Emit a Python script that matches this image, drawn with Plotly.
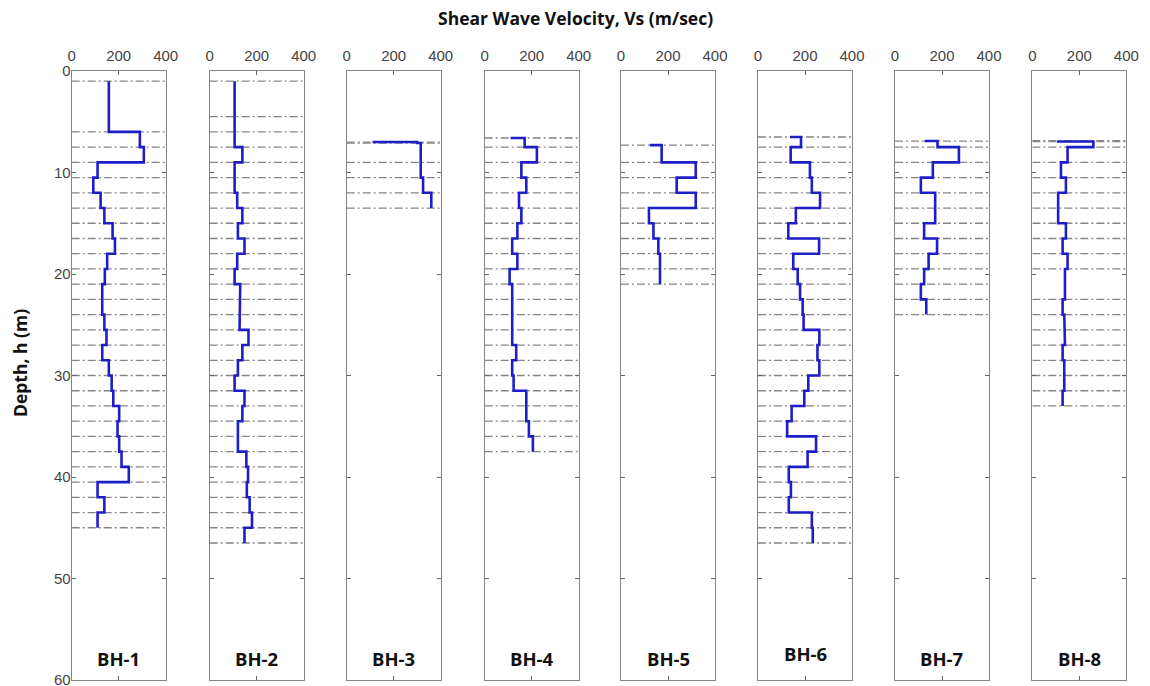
import plotly.graph_objects as go

# Borehole names
boreholes = ["BH-1", "BH-2", "BH-3", "BH-4", "BH-5", "BH-6", "BH-7", "BH-8"]

# Layer boundaries (m) and layer shear-wave velocities (m/s) for each borehole
bh1_depth = [1.0, 6.0, 7.5, 9.0, 10.5, 12.0, 13.5, 15.0, 16.5, 18.0, 19.5, 21.0, 22.5, 24.0,
             25.5, 27.0, 28.5, 30.0, 31.5, 33.0, 34.5, 36.0, 37.5, 39.0, 40.5, 42.0, 43.5, 45.0]
bh1_vs = [158, 290, 307, 110, 92, 123, 139, 174, 184, 151, 141, 130, 130, 139,
          148, 130, 158, 170, 177, 202, 195, 202, 212, 243, 110, 139, 110]

bh2_depth = [1.0, 4.5, 6.0, 7.5, 9.0, 10.5, 12.0, 13.5, 15.0, 16.5, 18.0, 19.5, 21.0, 22.5, 24.0,
             25.5, 27.0, 28.5, 30.0, 31.5, 33.0, 34.5, 36.0, 37.5, 39.0, 40.5, 42.0, 43.5, 45.0, 46.5]
bh2_vs = [106, 106, 106, 139, 106, 106, 117, 139, 120, 148, 117, 106, 130, 127,
          127, 165, 139, 120, 106, 148, 139, 120, 120, 156, 163, 158, 170, 180, 148]

bh3_depth = [7.0, 7.0, 7.1, 9.0, 10.5, 12.0, 13.5]
bh3_vs = [110, 300, 315, 315, 325, 360]

bh4_depth = [6.6, 6.6, 7.5, 9.0, 10.5, 12.0, 13.5, 15.0, 16.5, 18.0, 19.5, 21.0, 22.5, 24.0,
             25.5, 27.0, 28.5, 30.0, 31.5, 33.0, 34.5, 36.0, 37.5]
bh4_vs = [110, 170, 222, 156, 177, 146, 156, 139, 117, 139, 106, 117, 117, 117,
          117, 134, 117, 123, 177, 177, 188, 205]

bh5_depth = [7.3, 7.3, 9.0, 10.5, 12.0, 13.5, 15.0, 16.5, 18.0, 19.5, 21.0]
bh5_vs = [123, 173, 318, 237, 318, 119, 138, 159, 166, 166]

bh6_depth = [6.5, 6.5, 7.5, 9.0, 10.5, 12.0, 13.5, 15.0, 16.5, 18.0, 19.5, 21.0, 22.5, 24.0,
             25.5, 27.0, 28.5, 30.0, 31.5, 33.0, 34.5, 36.0, 37.5, 39.0, 40.5, 42.0, 43.5, 45.0, 46.5]
bh6_vs = [136, 183, 139, 221, 229, 264, 161, 129, 260, 150, 169, 179, 190, 194,
          261, 253, 261, 214, 197, 143, 124, 247, 211, 131, 140, 131, 229, 233]

bh7_depth = [6.9, 6.9, 7.5, 9.0, 10.5, 12.0, 13.5, 15.0, 16.5, 18.0, 19.5, 21.0, 22.5, 24.0]
bh7_vs = [126, 181, 272, 161, 110, 171, 171, 124, 179, 143, 124, 110, 133]

bh8_depth = [6.85, 6.95, 7.5, 9.0, 10.5, 12.0, 13.5, 15.0, 16.5, 18.0, 19.5, 22.5, 24.0,
             25.5, 27.0, 28.5, 30.0, 31.5, 33.0]
bh8_vs = [110, 260, 150, 122, 143, 110, 110, 143, 129, 150, 139, 129, 136,
          139, 129, 136, 136, 129]

depths = [bh1_depth, bh2_depth, bh3_depth, bh4_depth, bh5_depth, bh6_depth, bh7_depth, bh8_depth]
velocities = [bh1_vs, bh2_vs, bh3_vs, bh4_vs, bh5_vs, bh6_vs, bh7_vs, bh8_vs]

vs_ticks = [0, 200, 400]
depth_ticks = [0, 10, 20, 30, 40, 50, 60]

W, H = 1150, 686
panel_left = [71.7, 209.7, 346.7, 484.7, 621.0, 758.0, 895.0, 1032.3]
panel_w = 94.0
plot_top, plot_bottom = 71.0, 680.0

BLUE = "#1e1ec8"
GREY = "#858585"
TICKFONT = dict(family="Liberation Sans, Arial, sans-serif", size=15, color="#444444")
BOLD = dict(family="Open Sans, sans-serif", size=17.5, color="#111111", weight="bold")

fig = go.Figure()
layout = {}
annotations = []

for i, name in enumerate(boreholes):
    sfx = "" if i == 0 else str(i + 1)
    xa, ya = "x" + sfx, "y" + sfx
    d, v = depths[i], velocities[i]

    # dash-dot lines across the panel at each layer boundary
    gx, gy = [], []
    for dep in sorted(set(d)):
        gx += [0, 400, None]
        gy += [dep, dep, None]
    fig.add_trace(go.Scatter(x=gx, y=gy, mode="lines", xaxis=xa, yaxis=ya,
                             line=dict(color=GREY, width=1.3, dash="8px,3px,2px,3px"),
                             hoverinfo="skip", showlegend=False))

    # stepped velocity profile
    sx, sy = [], []
    for k, vel in enumerate(v):
        sx += [vel, vel]
        sy += [d[k], d[k + 1]]
    fig.add_trace(go.Scatter(x=sx, y=sy, mode="lines", xaxis=xa, yaxis=ya,
                             line=dict(color=BLUE, width=2.6),
                             showlegend=False, name=name))

    x0 = panel_left[i] / W
    x1 = (panel_left[i] + panel_w) / W
    layout["xaxis" + sfx] = dict(
        domain=[x0, x1], range=[0, 400], side="top", anchor=ya, automargin=False,
        tickvals=vs_ticks, ticktext=[str(t) for t in vs_ticks],
        ticks="inside", ticklen=4, tickcolor="#666666",
        showline=True, linecolor=GREY, linewidth=1, mirror="ticks",
        showgrid=False, zeroline=False, tickfont=TICKFONT, ticklabelstandoff=3,
        ticklabeloverflow="allow",
    )
    layout["yaxis" + sfx] = dict(
        domain=[(H - plot_bottom) / H, (H - plot_top) / H], range=[60, 0],
        anchor=xa, automargin=False, tickvals=depth_ticks, showticklabels=(i == 0),
        ticks="inside", ticklen=4, tickcolor="#666666",
        showline=True, linecolor=GREY, linewidth=1, mirror="ticks",
        showgrid=False, zeroline=False, tickfont=TICKFONT, ticklabelstandoff=-3,
        ticklabeloverflow="allow",
    )
    annotations.append(dict(
        text=name, xref=xa, x=200, yref="paper",
        y=(H - (653 if name == "BH-6" else 658)) / H,
        showarrow=False, font=dict(BOLD, size=18.5), xanchor="center", yanchor="middle",
    ))

annotations.append(dict(text="Shear Wave Velocity, Vs (m/sec)", xref="paper", yref="paper",
                        x=575 / W, y=(H - 18) / H, showarrow=False, font=BOLD,
                        xanchor="center", yanchor="middle"))
annotations.append(dict(text="Depth, h (m)", xref="paper", yref="paper",
                        x=20 / W, y=(H - 363) / H, showarrow=False, font=BOLD,
                        textangle=-90, xanchor="center", yanchor="middle"))

fig.update_layout(width=W, height=H, margin=dict(l=0, r=0, t=0, b=0, autoexpand=False),
                  paper_bgcolor="white", plot_bgcolor="white",
                  annotations=annotations, **layout)

fig.write_html("out.html")
